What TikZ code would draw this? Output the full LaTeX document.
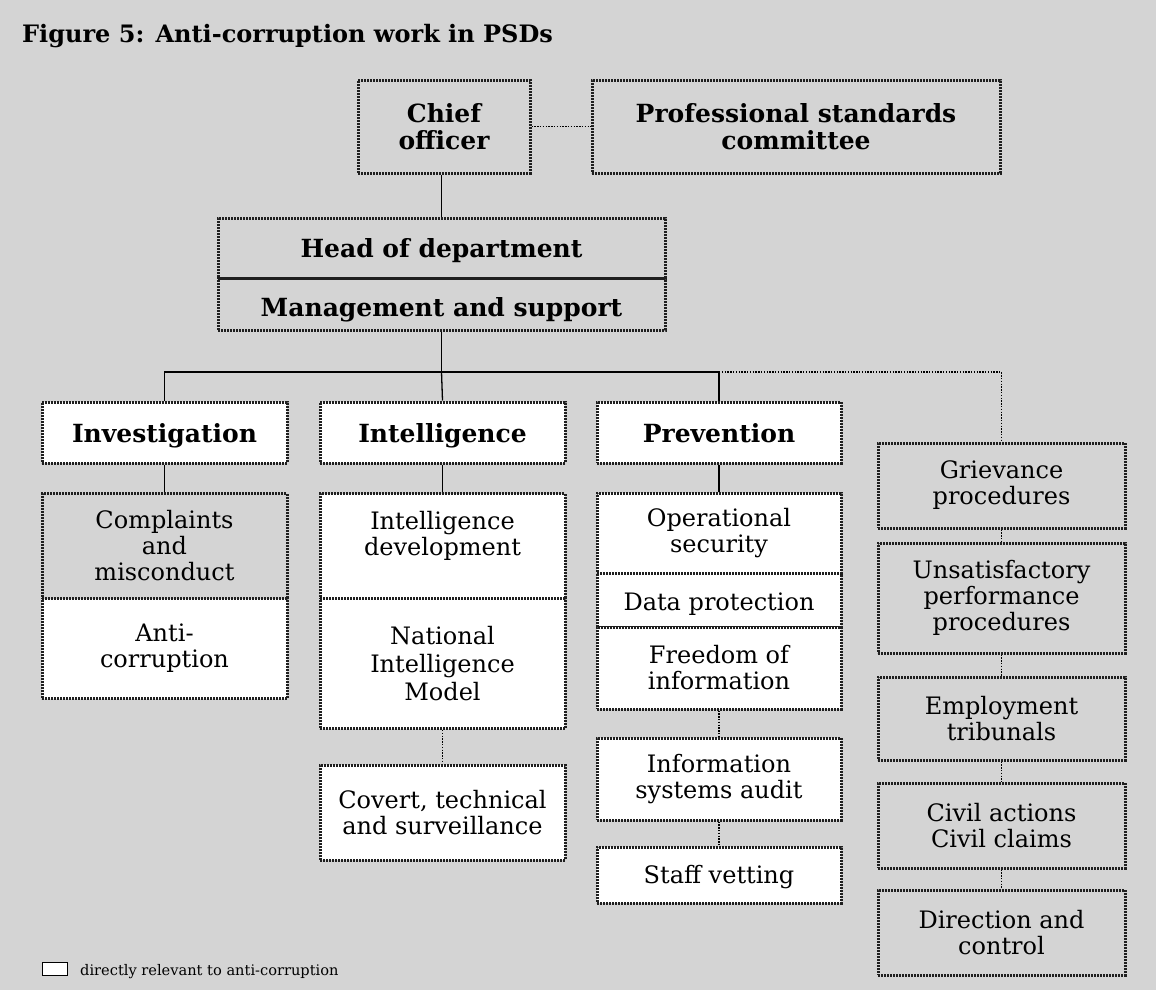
\documentclass[tikz,border=0pt]{standalone}
\usepackage{fontspec}
\setmainfont{DejaVu Serif}
\definecolor{paper}{gray}{0.83}
\definecolor{rim}{gray}{0.12}
% one line of text, set a little below the middle of its box
\newcommand{\lowline}[2]{\raisebox{0pt}[\dimexpr\height+#1*2\relax][\depth]{\strut #2}}
\begin{document}
\begin{tikzpicture}[x=1pt,y=-1pt,
  cell/.style={draw=rim, line width=3pt, dash pattern=on 2pt off 1pt,
    align=center, inner sep=0pt, minimum width=245pt,
    font=\fontsize{24}{26}\selectfont},
  pbox/.style={cell},
  wbox/.style={cell, fill=white},
  hd/.style={font=\bfseries\fontsize{25}{27}\selectfont},
  link/.style={line width=1.3pt, black},
  dotlink/.style={line width=1.4pt, black, dash pattern=on 1.4pt off 1.4pt},
]
% page
\fill[paper] (0,0) rectangle (1156,990);
\useasboundingbox (0,0) rectangle (1156,990);

\node[anchor=base west, inner sep=0pt, font=\bfseries\fontsize{24}{28}\selectfont] (title) at (22,43) {Figure 5: Anti-corruption work in PSDs};

% top of the structure
\node[pbox, hd, minimum width=172pt, minimum height=93pt] (chief) at (444,126.5) {Chief\\officer};
\node[pbox, hd, minimum width=408pt, minimum height=93pt] (psc) at (796,126.5) {Professional standards\\committee};
\node[pbox, hd, minimum width=447pt, minimum height=60pt] (head) at (441.5,248) {\lowline{4.5pt}{Head of department}};
\node[pbox, hd, minimum width=447pt, minimum height=52pt] (mgmt) at (441.5,304) {\lowline{7pt}{Management and support}};

% investigation column
\node[wbox, hd, minimum height=61pt] (inv) at (164.5,432.5) {\lowline{5pt}{Investigation}};
\node[pbox, minimum height=105pt] (cmp) at (164.5,546) {Complaints\\and\\misconduct};
\node[wbox, minimum height=100pt] (anti) at (164.5,648.5) {Anti-\\corruption};

% intelligence column
\node[wbox, hd, minimum height=61pt] (intel) at (442.5,432.5) {\lowline{5pt}{Intelligence}};
\node[wbox, minimum height=105pt] (idev) at (442.5,546) {Intelligence\\development\\\mbox{}};
\node[wbox, minimum height=130pt, font=\fontsize{24}{28}\selectfont] (nim) at (442.5,663.5) {National\\Intelligence\\Model};
\node[wbox, minimum height=95pt] (cov) at (442.5,812.5) {Covert, technical\\and surveillance};

% prevention column
\node[wbox, hd, minimum width=244pt, minimum height=61pt] (prev) at (719,432.5) {\lowline{5pt}{Prevention}};
\node[wbox, minimum width=244pt, minimum height=80pt] (ops) at (719,533) {Operational\\security};
\node[wbox, minimum width=244pt, minimum height=54pt] (dpr) at (719,600) {\lowline{5pt}{Data protection}};
\node[wbox, minimum width=244pt, minimum height=82pt] (foi) at (719,668) {Freedom of\\information};
\node[wbox, minimum width=244pt, minimum height=82pt] (isa) at (719,779) {Information\\systems audit};
\node[wbox, minimum width=244pt, minimum height=56pt] (vet) at (719,875) {\lowline{3pt}{Staff vetting}};

% employment column
\node[pbox, minimum width=247pt, minimum height=85pt] (grv) at (1001.5,485.5) {Grievance\\procedures};
\node[pbox, minimum width=247pt, minimum height=110pt] (unsat) at (1001.5,598) {Unsatisfactory\\performance\\procedures};
\node[pbox, minimum width=247pt, minimum height=83pt] (emp) at (1001.5,718.5) {Employment\\tribunals};
\node[pbox, minimum width=247pt, minimum height=85pt] (civ) at (1001.5,825.5) {Civil actions\\Civil claims};
\node[pbox, minimum width=247pt, minimum height=85pt] (dir) at (1001.5,932.5) {Direction and\\control};

% connectors
\draw[dotlink] (chief.east) -- (psc.west);
\draw[link] (chief.south -| head.north) -- (head.north);
\coordinate (bus) at (441.5,372);
\draw[link] (mgmt.south) -- (bus);
\draw[link] (inv.north) |- (bus) -| (prev.north);
\draw[link] (bus) -- (intel.north);
\draw[dotlink] (prev.north |- bus) -| (grv.north);

\draw[link] (inv.south) -- (cmp.north);
\draw[link] (intel.south) -- (idev.north);
\draw[link] (prev.south) -- (ops.north);
\draw[dotlink] (nim.south) -- (cov.north);
\draw[dotlink] (foi.south) -- (isa.north);
\draw[dotlink] (isa.south) -- (vet.north);
\draw[dotlink] (grv.south) -- (unsat.north);
\draw[dotlink] (unsat.south) -- (emp.north);
\draw[dotlink] (emp.south) -- (civ.north);
\draw[dotlink] (civ.south) -- (dir.north);

% key
\node[draw=black, line width=0.8pt, fill=white, inner sep=0pt, minimum width=25pt, minimum height=13pt] (key) at (54.5,968.5) {};
\node[anchor=base west, inner sep=0pt, font=\fontsize{14.6}{16}\selectfont] (keytext) at (80,975) {directly relevant to anti-corruption};
\end{tikzpicture}
\end{document}
